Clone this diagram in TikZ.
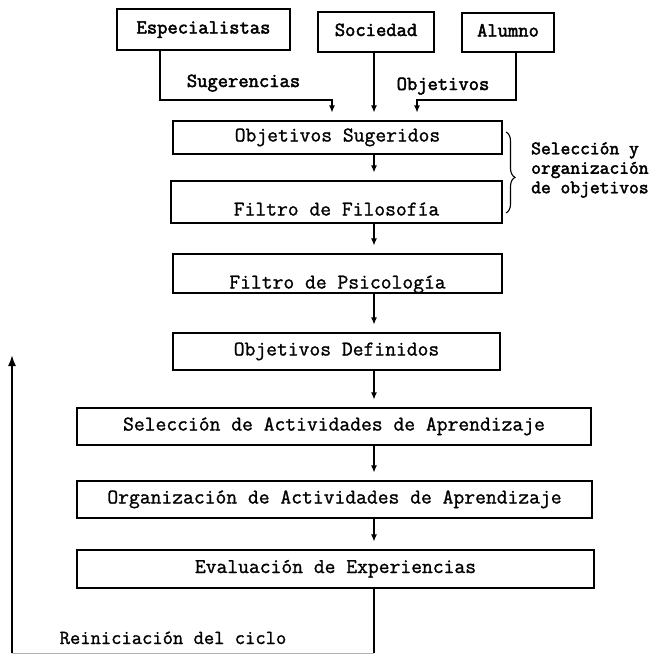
\documentclass[tikz,border=0pt]{standalone}
\usepackage{fontspec}
\newfontfamily\twr[FakeBold=1.2]{Latin Modern Mono}
\newfontfamily\twb[FakeBold=2.4]{Latin Modern Mono}
\usetikzlibrary{arrows.meta,decorations.pathreplacing,calc}
\begin{document}
\begin{tikzpicture}[x=1pt,y=1pt,
  box/.style={draw,line width=1.1pt,inner sep=0pt,text height=12pt,text depth=4pt,
    font=\twr\fontsize{21}{21}\selectfont},
  topbox/.style={box,font=\twb\fontsize{20}{20}\selectfont},
  arr/.style={line width=1.1pt,-{Latex[length=7pt,width=6pt]},shorten >=8pt},
  lbl/.style={inner sep=0pt,text height=12pt,text depth=4pt,font=\twr\fontsize{20}{20}\selectfont},
  toplbl/.style={lbl,font=\twb\fontsize{20}{20}\selectfont}]
\useasboundingbox (0,0) rectangle (668,-654);

% top sources
\node[topbox,minimum width=173pt,minimum height=41pt] (esp) at (203.5,-29.5) {Especialistas};
\node[topbox,minimum width=116pt,minimum height=40pt] (soc) at (376,-32) {Sociedad};
\node[topbox,minimum width=92pt,minimum height=39pt] (alu) at (508,-32.5) {Alumno};

% chain
\node[box,minimum width=329pt,minimum height=33pt] (os) at (337.5,-137.5) {Objetivos Sugeridos};
\node[box,minimum width=331pt,minimum height=42pt,text height=31pt] (ff) at (336.5,-202) {Filtro de Filosofía};
\node[box,minimum width=329pt,minimum height=39pt,text height=34pt] (fp) at (337.5,-273.5) {Filtro de Psicología};
\node[box,minimum width=327pt,minimum height=37pt] (od) at (336.5,-351.5) {Objetivos Definidos};
\node[box,minimum width=514pt,minimum height=37pt] (sa) at (334,-426.5) {Selección de Actividades de Aprendizaje};
\node[box,minimum width=515pt,minimum height=37pt] (oa) at (334.5,-499.5) {Organización de Actividades de Aprendizaje};
\node[box,minimum width=517pt,minimum height=38pt] (ee) at (335.5,-569) {Evaluación de Experiencias};

% labels
\node[toplbl] (sug) at (243.5,-83) {Sugerencias};
\node[toplbl] (obj) at (443,-86) {Objetivos};
\node[lbl] (rc) at (173,-640) {Reiniciación del ciclo};

% helper coordinates
\coordinate (col) at (374,0);
\coordinate (e1) at (160,-100);
\coordinate (e2) at (332,-100);
\coordinate (a1) at (516,-100);
\coordinate (a2) at (417,-100);
\coordinate (bl) at (12,-653);
\coordinate (tip) at (12,-355);

% inputs
\draw[arr] (esp.south -| e1) -- (e1) -- (e2) -- (e2 |- os.north);
\draw[arr] (soc.south -| col) -- (col |- os.north);
\draw[arr] (alu.south -| a1) -- (a1) -- (a2) -- (a2 |- os.north);

% chain arrows
\draw[arr] (os.south -| col) -- (col |- ff.north);
\draw[arr] (ff.south -| col) -- (col |- fp.north);
\draw[arr] (fp.south -| col) -- (col |- od.north);
\draw[arr] (od.south -| col) -- (col |- sa.north);
\draw[arr] (sa.south -| col) -- (col |- oa.north);
\draw[arr] (oa.south -| col) -- (col |- ee.north);

% brace
\draw[line width=1.1pt,decorate,decoration={brace,amplitude=9pt,aspect=0.56}] (506,-132) -- (506,-213);
\node[anchor=west,align=left,inner sep=0pt,font=\twb\fontsize{19}{19.5}\selectfont] (bt) at (531,-170)
  {Selección y\\organización\\de objetivos};

% loop back
\draw[line width=1.1pt] (ee.south -| col) -- (col |- bl);
\draw[line width=1pt,gray!60] (col |- bl) -- (bl);
\draw[line width=1.8pt,-{Latex[length=11pt,width=8pt]}] (bl) -- (tip);
\end{tikzpicture}
\end{document}
